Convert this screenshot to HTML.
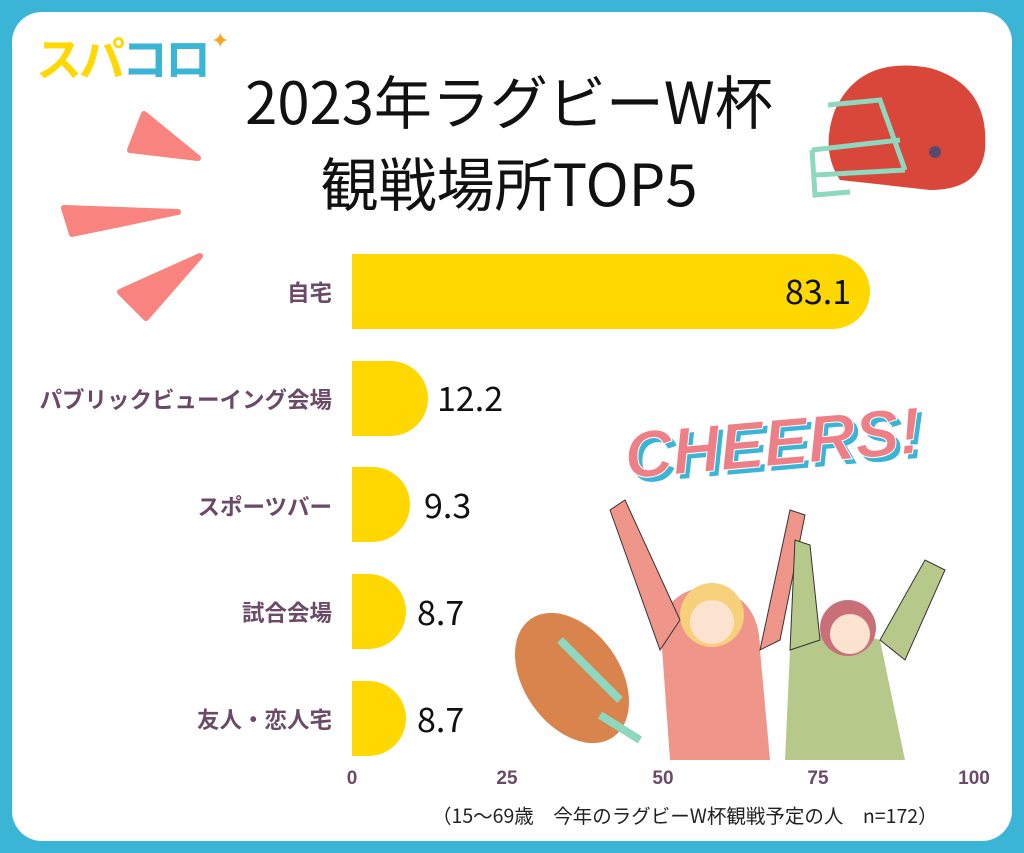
<!DOCTYPE html>
<html><head><meta charset="utf-8"><style>
*{margin:0;padding:0;box-sizing:border-box}
body{width:1024px;height:853px;background:#3ab5d5;position:relative;overflow:hidden;font-family:"Liberation Sans","Noto Sans CJK JP",sans-serif}
.frame{position:absolute;left:12px;top:12px;width:1000px;height:829px;background:#fff;border-radius:30px}
.t{position:absolute;white-space:nowrap}
.bar{position:absolute;left:352px;height:75px;background:#fed800;border-radius:0 38px 38px 0}
.lab{position:absolute;right:692px;font-size:22.5px;font-weight:bold;color:#6b4a68;white-space:nowrap;font-family:"Noto Sans CJK JP",sans-serif}
.val{position:absolute;font-size:34px;color:#111;font-family:"Noto Sans CJK JP",sans-serif}
.ax{position:absolute;top:768px;font-size:19px;font-weight:bold;color:#6b4a68;transform:translateX(-50%)}
</style></head><body>
<div class="frame"></div>
<div class="t" style="left:36px;top:24px;font-size:46px;font-weight:bold;color:#fed800;font-family:'Noto Sans CJK JP',sans-serif;letter-spacing:-3px">スパ<span style="color:#3ab5d5">コロ</span></div>
<div class="t" style="left:211px;top:28px;color:#f5a623;font-size:22px">✦</div>
<div class="t" style="left:0;width:1024px;text-align:center;top:58px;font-size:58px;color:#111;font-family:'Noto Sans CJK JP',sans-serif;line-height:82px;padding-right:6px">2023年ラグビーW杯<br>観戦場所TOP5</div>
<svg style="position:absolute;left:0;top:0" width="1024" height="853">
<polygon points="144,114 198,158 130,150" fill="#f8837f" stroke="#f8837f" stroke-linejoin="round" stroke-width="6"/>
<polygon points="64,208 178,212 72,234" fill="#f8837f" stroke="#f8837f" stroke-linejoin="round" stroke-width="6"/>
<polygon points="120,292 200,256 146,318" fill="#f8837f" stroke="#f8837f" stroke-linejoin="round" stroke-width="6"/>
<path d="M835,110 Q860,55 930,68 Q990,85 985,150 Q980,190 930,190 L840,180 Q820,150 835,110Z" fill="#d9473b"/>
<circle cx="935" cy="152" r="6" fill="#5a4a6a"/>
<path d="M828,105 L880,100 L905,170 M812,150 L900,140 M815,175 L905,170 M812,150 L815,195 L850,192" fill="none" stroke="#8fd8c0" stroke-width="5"/>
<ellipse cx="572" cy="678" rx="48" ry="72" transform="rotate(-35 572 678)" fill="#d9844c"/>
<path d="M560,640 L620,700" stroke="#8fd8c0" stroke-width="8"/>
<path d="M600,715 L640,740" stroke="#8fd8c0" stroke-width="8"/>
<path d="M670,760 L660,620 Q680,580 720,590 Q760,600 760,650 L770,760Z" fill="#ef958a"/>
<path d="M660,650 L610,510 L625,500 L680,620Z M760,650 L790,510 L805,515 L780,640Z" fill="#ef958a" stroke="#333" stroke-width="1"/>
<circle cx="712" cy="615" r="32" fill="#f6d07a"/>
<circle cx="712" cy="622" r="22" fill="#fbe3cf"/>
<path d="M785,760 L790,650 Q820,620 880,640 L905,760Z" fill="#b7c98a"/>
<path d="M790,650 L795,540 L810,545 L820,640Z M880,640 L925,560 L945,570 L905,660Z" fill="#b7c98a" stroke="#333" stroke-width="1"/>
<circle cx="848" cy="628" r="28" fill="#c86f78"/>
<circle cx="850" cy="634" r="20" fill="#fbe3cf"/>
<text x="628" y="470" font-family="Liberation Sans" font-weight="bold" font-style="italic" font-size="66" fill="#3ab5d5" transform="rotate(-5 780 440)">CHEERS!</text>
<text x="624" y="465" font-family="Liberation Sans" font-weight="bold" font-style="italic" font-size="66" fill="#ef7f86" stroke="#fff" stroke-width="1" transform="rotate(-5 780 440)">CHEERS!</text>
</svg>
<div class="bar" style="top:254px;width:518px"></div>
<div class="bar" style="top:361px;width:76px"></div>
<div class="bar" style="top:467px;width:58px"></div>
<div class="bar" style="top:574px;width:54px"></div>
<div class="bar" style="top:681px;width:54px"></div>
<div class="val" style="left:785px;top:265px">83.1</div>
<div class="val" style="left:437px;top:372px">12.2</div>
<div class="val" style="left:424px;top:479px">9.3</div>
<div class="val" style="left:417px;top:586px">8.7</div>
<div class="val" style="left:417px;top:693px">8.7</div>
<div class="lab" style="top:276px">自宅</div>
<div class="lab" style="top:383px">パブリックビューイング会場</div>
<div class="lab" style="top:490px">スポーツバー</div>
<div class="lab" style="top:596px">試合会場</div>
<div class="lab" style="top:703px">友人・恋人宅</div>
<div class="ax" style="left:352px">0</div>
<div class="ax" style="left:507px">25</div>
<div class="ax" style="left:663px">50</div>
<div class="ax" style="left:818px">75</div>
<div class="ax" style="left:974px">100</div>
<div class="t" style="left:432px;top:800px;font-size:19.5px;color:#222;font-family:'Noto Sans CJK JP',sans-serif">（15〜69歳　今年のラグビーW杯観戦予定の人　n=172）</div>
</body></html>
